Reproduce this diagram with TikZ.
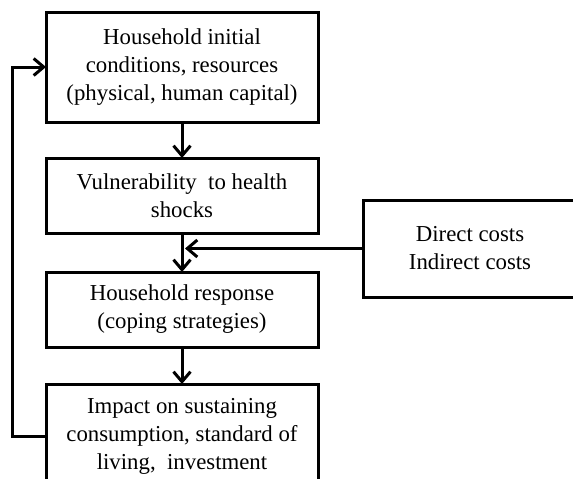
\documentclass[tikz,border=0pt]{standalone}
\usepackage{fontspec}
\setmainfont{Liberation Serif}
\usetikzlibrary{positioning,arrows.meta}

\tikzset{
	box/.style={draw, line width=3pt, align=center, minimum width=272pt, inner sep=0pt, outer sep=0pt, font=\fontsize{22.8}{28}\selectfont},
	flow/.style={line width=3pt, -{Straight Barb[length=10pt,width=17pt]}}
}

\begin{document}
\begin{tikzpicture}[x=1pt, y=-1pt]
	
	\useasboundingbox (0,0) rectangle (573,479);
	\clip (0,0) rectangle (573,479);
	
	\node[box, minimum height=110pt] (init) at (182,67) {Household initial\\conditions, resources\\(physical, human capital)};
	\node[box, minimum height=75pt, below=36pt of init] (vuln) {Vulnerability \ to health\\shocks};
	\node[box, minimum height=75pt, below=39pt of vuln] (resp) {Household response\\(coping strategies)};
	\node[box, minimum height=104pt, below=37pt of resp] (impact) {Impact on sustaining\\consumption, standard of\\living, \ investment};
	\node[box, minimum width=214pt, minimum height=97pt] (costs) at (470,248.5) {Direct costs\\Indirect costs};
	
	\draw[flow] (init) -- (vuln);
	\draw[flow] (vuln) -- (resp);
	\draw[flow] (resp) -- (impact);
	\draw[flow, shorten >=3pt] (costs.west) -- (costs.west -| vuln.south);
	\draw[flow] (impact.west) -- ++(-34,0) |- (init.west);
	
\end{tikzpicture}
\end{document}
